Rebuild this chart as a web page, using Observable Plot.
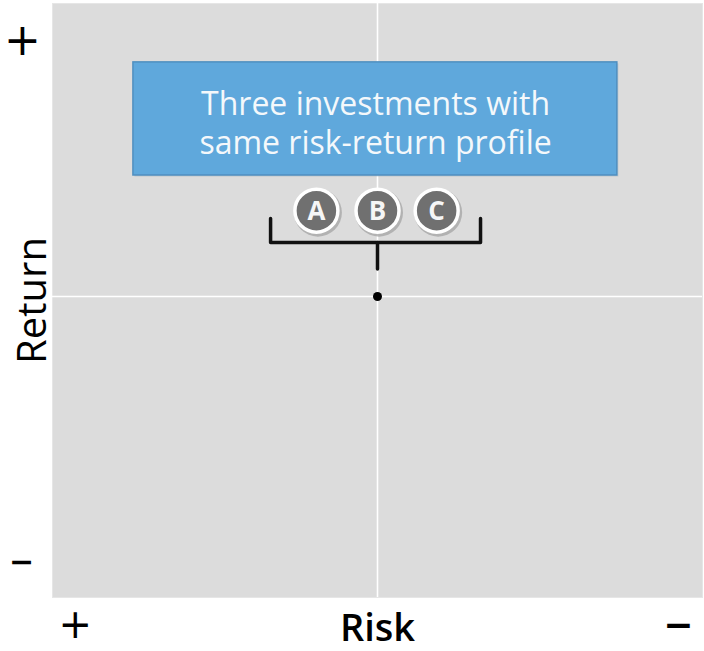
<!DOCTYPE html>
<html>
<head>
<meta charset="utf-8">
<script src="https://cdn.jsdelivr.net/npm/d3@7"></script>
<script src="https://cdn.jsdelivr.net/npm/@observablehq/plot@0.6"></script>
<style>
  html, body { margin: 0; padding: 0; background: #fff; }
  svg { display: block; }
</style>
</head>
<body>
<div id="chart"></div>
<script>
// Conceptual risk/return chart (domain -1..1 on both axes)
const xTicks = [-0.93, 0.926];          // Risk tick positions (high risk, low risk)
const xTickLabels = ["+", "−"];
const yTicks = [0.874, -0.908];         // Return tick positions (high return, low return)
const yTickLabels = ["+", "−"];

const point = [{risk: 0, ret: 0}];      // the shared risk-return profile

const investments = ["A", "B", "C"];
const investmentRisk = [-0.188, 0, 0.182];
const investmentRet = [0.293, 0.293, 0.293];

const calloutText = "Three investments with\nsame risk-return profile";
const calloutBox = [{x1: -0.751, x2: 0.738, y1: 0.413, y2: 0.799}];
const calloutCenter = [{x: -0.006, y: 0.597}];

// bracket joining the three investments to the point
const bracketX = [-0.329, -0.329, 0.317, 0.317];
const bracketY = [0.266, 0.184, 0.184, 0.266];
const stemX = [0, 0];
const stemY = [0.184, 0.094];

const inv = investments.map((d, i) => ({name: d, risk: investmentRisk[i], ret: investmentRet[i]}));
const bracket = bracketX.map((x, i) => ({x, y: bracketY[i]}));
const stem = stemX.map((x, i) => ({x, y: stemY[i]}));

const signFont = "'DejaVu Sans', sans-serif";

const chart = Plot.plot({
  width: 704,
  height: 651,
  marginLeft: 52,
  marginRight: 2,
  marginTop: 3,
  marginBottom: 54,
  style: {fontFamily: "'Open Sans', sans-serif", background: "#fff", overflow: "visible"},
  x: {domain: [-1, 1]},
  y: {domain: [-301 / 293, 1]},
  marks: [
    Plot.frame({fill: "#dcdcdc", stroke: "#e6e6e6"}),
    Plot.ruleX([0], {stroke: "#ffffff", strokeWidth: 1.6}),
    Plot.ruleY([0], {stroke: "#ffffff", strokeWidth: 1.6}),
    // callout box
    Plot.rect(calloutBox, {x1: "x1", x2: "x2", y1: "y1", y2: "y2", fill: "#a9b7c2", dx: 1.5, dy: 1.5, fillOpacity: 0.6}),
    Plot.rect(calloutBox, {x1: "x1", x2: "x2", y1: "y1", y2: "y2", fill: "#5fa8dc", stroke: "#4f8fc0", strokeWidth: 1.5}),
    Plot.text(calloutCenter, {x: "x", y: "y", text: () => calloutText, fill: "#f4f8fb", fontSize: 32, lineHeight: 1.22, textAnchor: "middle"}),
    // bracket
    Plot.line(bracket, {x: "x", y: "y", stroke: "#111", strokeWidth: 3.5, strokeLinejoin: "round", curve: "linear"}),
    Plot.line(stem, {x: "x", y: "y", stroke: "#111", strokeWidth: 3.5}),
    // investment badges
    Plot.dot(inv, {x: "risk", y: "ret", r: 24, fill: "#a8a8a8", dx: 1.5, dy: 2, fillOpacity: 0.8}),
    Plot.dot(inv, {x: "risk", y: "ret", r: 21.5, fill: "#707070", stroke: "#ffffff", strokeWidth: 3.5}),
    Plot.text(inv, {x: "risk", y: "ret", text: "name", fill: "#f6f6f6", fontSize: 26, fontWeight: "bold", dy: 1}),
    // point
    Plot.dot(point, {x: "risk", y: "ret", r: 4.5, fill: "#000"}),
    // axes: tick labels
    Plot.axisX([xTicks[0]], {
      tickSize: 0, tickPadding: 28, lineAnchor: "middle", fontSize: 40, fontFamily: signFont, fill: "#000",
      tickFormat: () => xTickLabels[0], label: null
    }),
    Plot.axisX([xTicks[1]], {
      tickSize: 0, tickPadding: 28, lineAnchor: "middle", fontSize: 36, fontFamily: signFont, fill: "#000", fontWeight: "bold",
      tickFormat: () => xTickLabels[1],
      label: "Risk", labelAnchor: "center", labelOffset: 43, labelArrow: "none"
    }),
    Plot.axisY([yTicks[0]], {
      tickSize: 0, tickPadding: 30, fontSize: 44, fontFamily: signFont, fill: "#000", textAnchor: "middle",
      tickFormat: () => yTickLabels[0], label: null
    }),
    Plot.axisY([yTicks[1]], {
      tickSize: 0, tickPadding: 31, fontSize: 30, fontFamily: signFont, fill: "#000", textAnchor: "middle", fontWeight: "bold",
      tickFormat: () => yTickLabels[1],
      label: "Return", labelAnchor: "center", labelOffset: 35, labelArrow: "none"
    })
  ]
});
// style the axis titles
chart.querySelectorAll("[aria-label='x-axis label']").forEach(n => {
  n.setAttribute("font-size", 38); n.setAttribute("font-weight", 600);
  n.setAttribute("font-family", "'Open Sans', sans-serif");
});
chart.querySelectorAll("[aria-label='y-axis label']").forEach(n => {
  n.setAttribute("font-size", 40); n.setAttribute("font-weight", 400);
  n.setAttribute("font-family", "'Open Sans', sans-serif");
});
document.getElementById("chart").appendChild(chart);
</script>
</body>
</html>
